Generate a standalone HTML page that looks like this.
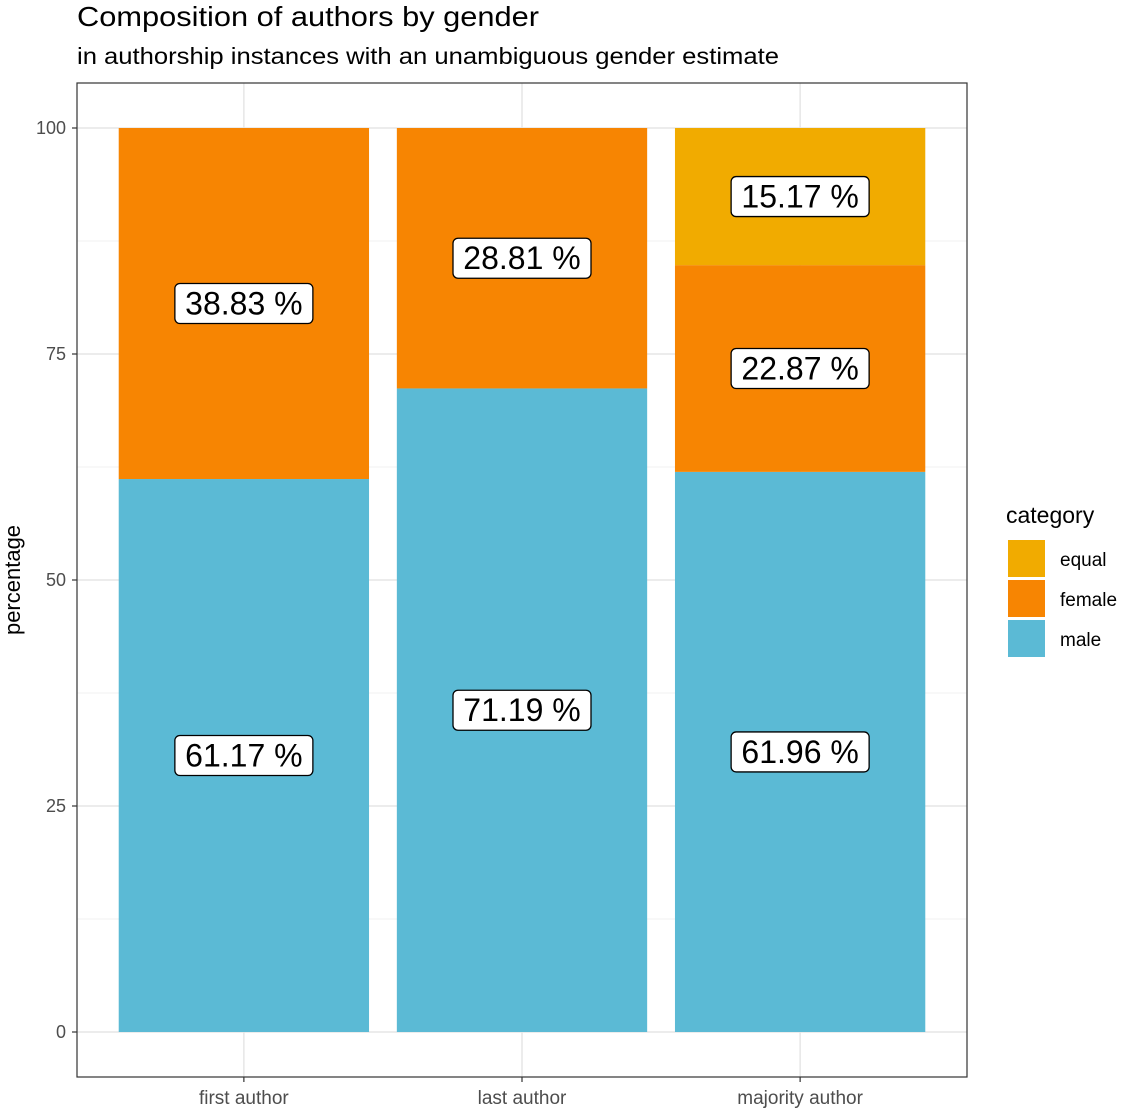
<!DOCTYPE html>
<html><head><meta charset="utf-8"><style>
body{margin:0;background:#fff;font-family:"Liberation Sans",Arial,sans-serif}
</style></head><body>
<svg width="1125" height="1112" xmlns="http://www.w3.org/2000/svg" font-family="Liberation Sans, Arial, sans-serif">
<text x="77" y="26" font-size="28" textLength="462" lengthAdjust="spacingAndGlyphs" fill="#000">Composition of authors by gender</text>
<text x="77" y="64" font-size="23" textLength="702" lengthAdjust="spacingAndGlyphs" fill="#000">in authorship instances with an unambiguous gender estimate</text>
<g id="grid"></g>
<g id="bars"></g>
<g id="labels"></g>
<rect x="77" y="83" width="890" height="994" fill="none" stroke="#333" stroke-width="1.2"/>
<g id="axes"></g>
<text transform="translate(20,580) rotate(-90)" text-anchor="middle" font-size="22" fill="#000">percentage</text>
<g>
<text x="1006" y="523" font-size="23" fill="#000">category</text>
<rect x="1008" y="540" width="37" height="37" fill="#F1AB00"/>
<text x="1060" y="566" font-size="19">equal</text>
<rect x="1008" y="580" width="37" height="37" fill="#F78502"/>
<text x="1060" y="606" font-size="19">female</text>
<rect x="1008" y="620" width="37" height="37" fill="#5BBAD5"/>
<text x="1060" y="646" font-size="19">male</text>
</g>
</svg>
<script>
const categories=["first author","last author","majority author"];
const male=[61.17,71.19,61.96];
const female=[38.83,28.81,22.87];
const equal=[0,0,15.17];
const yTicks=[0,25,50,75,100];
const NS="http://www.w3.org/2000/svg";
const y0=1032,y100=128,x0=77,x1=967;
const y=v=>y0+(y100-y0)*v/100;
const unit=(x1-x0)/(categories.length+0.2);
const xc=i=>x0+unit*(i+0.6);
const bw=unit*0.9;
function mk(t,a,p){const e=document.createElementNS(NS,t);for(const k in a)e.setAttribute(k,a[k]);document.getElementById(p).appendChild(e);return e;}
for(let i=0;i<yTicks.length-1;i++){const m=(yTicks[i]+yTicks[i+1])/2;const g=mk('line',{x1:x0,x2:x1,y1:y(m),y2:y(m),stroke:'#f0f0f0','stroke-width':1},'grid');

}
yTicks.forEach(t=>{const g=mk('line',{x1:x0,x2:x1,y1:y(t),y2:y(t),stroke:'#e6e6e6','stroke-width':1.5},'grid');


const tk=mk('line',{x1:x0-5,x2:x0,y1:y(t),y2:y(t),stroke:'#333','stroke-width':1.2},'axes');


const tl=mk('text',{x:x0-11,y:y(t)+6,'text-anchor':'end','font-size':18,fill:'#4d4d4d'},'axes');tl.textContent=t;

});
categories.forEach((c,i)=>{const g=mk('line',{x1:xc(i),x2:xc(i),y1:83,y2:1077,stroke:'#e6e6e6','stroke-width':1.5},'grid');


const tk=mk('line',{x1:xc(i),x2:xc(i),y1:1077,y2:1082,stroke:'#333','stroke-width':1.2},'axes');


const tl=mk('text',{x:xc(i),y:1104,'text-anchor':'middle','font-size':19,fill:'#4d4d4d'},'axes');tl.textContent=c;

});
const series=[["male",male,"#5BBAD5"],["female",female,"#F78502"],["equal",equal,"#F1AB00"]];
categories.forEach((c,i)=>{let base=0;series.forEach(([n,arr,col])=>{const v=arr[i];if(v<=0)return;
const r=mk('rect',{x:xc(i)-bw/2,y:y(base+v),width:bw,height:y(base)-y(base+v),fill:col},'bars');


const cy=y(base+v/2);
const bx=mk('rect',{x:xc(i)-69,y:cy-20,width:138,height:40,rx:5,fill:'#fff',stroke:'#000','stroke-width':1.3},'labels');


const t=mk('text',{x:xc(i),y:cy+11,'text-anchor':'middle','font-size':32,fill:'#000'},'labels');t.textContent=v.toFixed(2)+' %';


base+=v;});});
</script>
</body></html>
